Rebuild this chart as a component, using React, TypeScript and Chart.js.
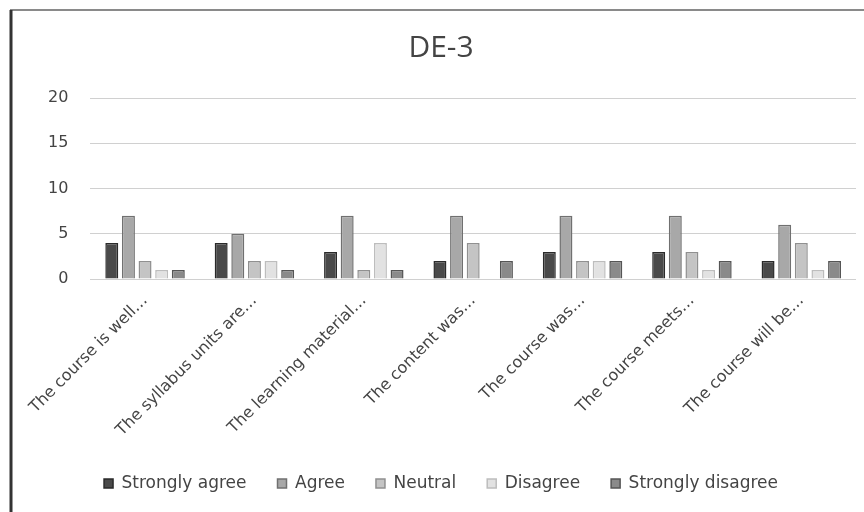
import React, { useEffect, useRef } from "react";
import { Chart, registerables } from "chart.js";

Chart.register(...registerables);

const categories = [
  "The course is well…",
  "The syllabus units are…",
  "The learning material…",
  "The content was…",
  "The course was…",
  "The course meets…",
  "The course will be…",
];
const stronglyAgree = [4, 4, 3, 2, 3, 3, 2];
const agree = [7, 5, 7, 7, 7, 7, 6];
const neutral = [2, 2, 1, 4, 2, 3, 4];
const disagree = [1, 2, 4, 0, 2, 1, 1];
const stronglyDisagree = [1, 1, 1, 2, 2, 2, 2];
const seriesNames = ["Strongly agree", "Agree", "Neutral", "Disagree", "Strongly disagree"];
const yTicks = [0, 5, 10, 15, 20];

const fills = ["#4a4a4a", "#a8a8a8", "#c4c4c4", "#e2e2e2", "#8a8a8a"];
const borders = ["#2a2a2a", "#707070", "#909090", "#bdbdbd", "#555555"];

const framePlugin = {
  id: "frame",
  beforeDraw(chart: any) {
    const ctx = chart.ctx;
    ctx.save();
    ctx.fillStyle = "#ffffff";
    ctx.fillRect(0, 0, chart.width, chart.height);
    ctx.strokeStyle = "#8a8a8a";
    ctx.lineWidth = 2;
    ctx.beginPath();
    ctx.moveTo(10, 10);
    ctx.lineTo(864, 10);
    ctx.stroke();
    ctx.strokeStyle = "#333333";
    ctx.lineWidth = 3;
    ctx.beginPath();
    ctx.moveTo(11, 10);
    ctx.lineTo(11, 512);
    ctx.stroke();
    ctx.restore();
  },
};

export default function App() {
  const ref = useRef<HTMLCanvasElement>(null);
  useEffect(() => {
    document.body.style.margin = "0";
    const values = [stronglyAgree, agree, neutral, disagree, stronglyDisagree];
    const chart = new Chart(ref.current!, {
      type: "bar",
      data: {
        labels: categories,
        datasets: seriesNames.map((name, i) => ({
          label: name,
          data: values[i],
          backgroundColor: fills[i],
          borderColor: borders[i],
          borderWidth: 1.5,
          categoryPercentage: 0.76,
          barPercentage: 0.78,
        })),
      },
      options: {
        animation: false,
        responsive: false,
        layout: { padding: { left: 26, right: 8, top: 24, bottom: 10 } },
        plugins: {
          title: {
            display: true,
            text: "DE-3",
            color: "#444",
            font: { family: "Open Sans", size: 30, weight: "normal" },
            padding: { top: 6, bottom: 32 },
          },
          legend: {
            position: "bottom",
            labels: {
              boxWidth: 9,
              boxHeight: 9,
              color: "#444",
              font: { family: "DejaVu Sans", size: 17 },
              padding: 31,
            },
          },
          tooltip: { enabled: false },
        },
        scales: {
          x: {
            grid: { display: false },
            border: { display: false },
            ticks: {
              color: "#444",
              font: { family: "DejaVu Sans", size: 16 },
              maxRotation: 45,
              minRotation: 45,
              padding: 4,
            },
          },
          y: {
            min: 0,
            max: 20,
            afterBuildTicks: (axis: any) => {
              axis.ticks = yTicks.map((v) => ({ value: v }));
            },
            grid: { color: "#d0d0d0", drawTicks: false },
            border: { display: false },
            ticks: {
              color: "#444",
              font: { family: "DejaVu Sans", size: 16 },
              padding: 22,
            },
          },
        },
      },
      plugins: [framePlugin],
    });
    return () => chart.destroy();
  }, []);
  return (
    <div style={{ position: "absolute", left: 0, top: 0, width: 864, height: 512 }}>
      <canvas ref={ref} width={864} height={512} />
    </div>
  );
}
